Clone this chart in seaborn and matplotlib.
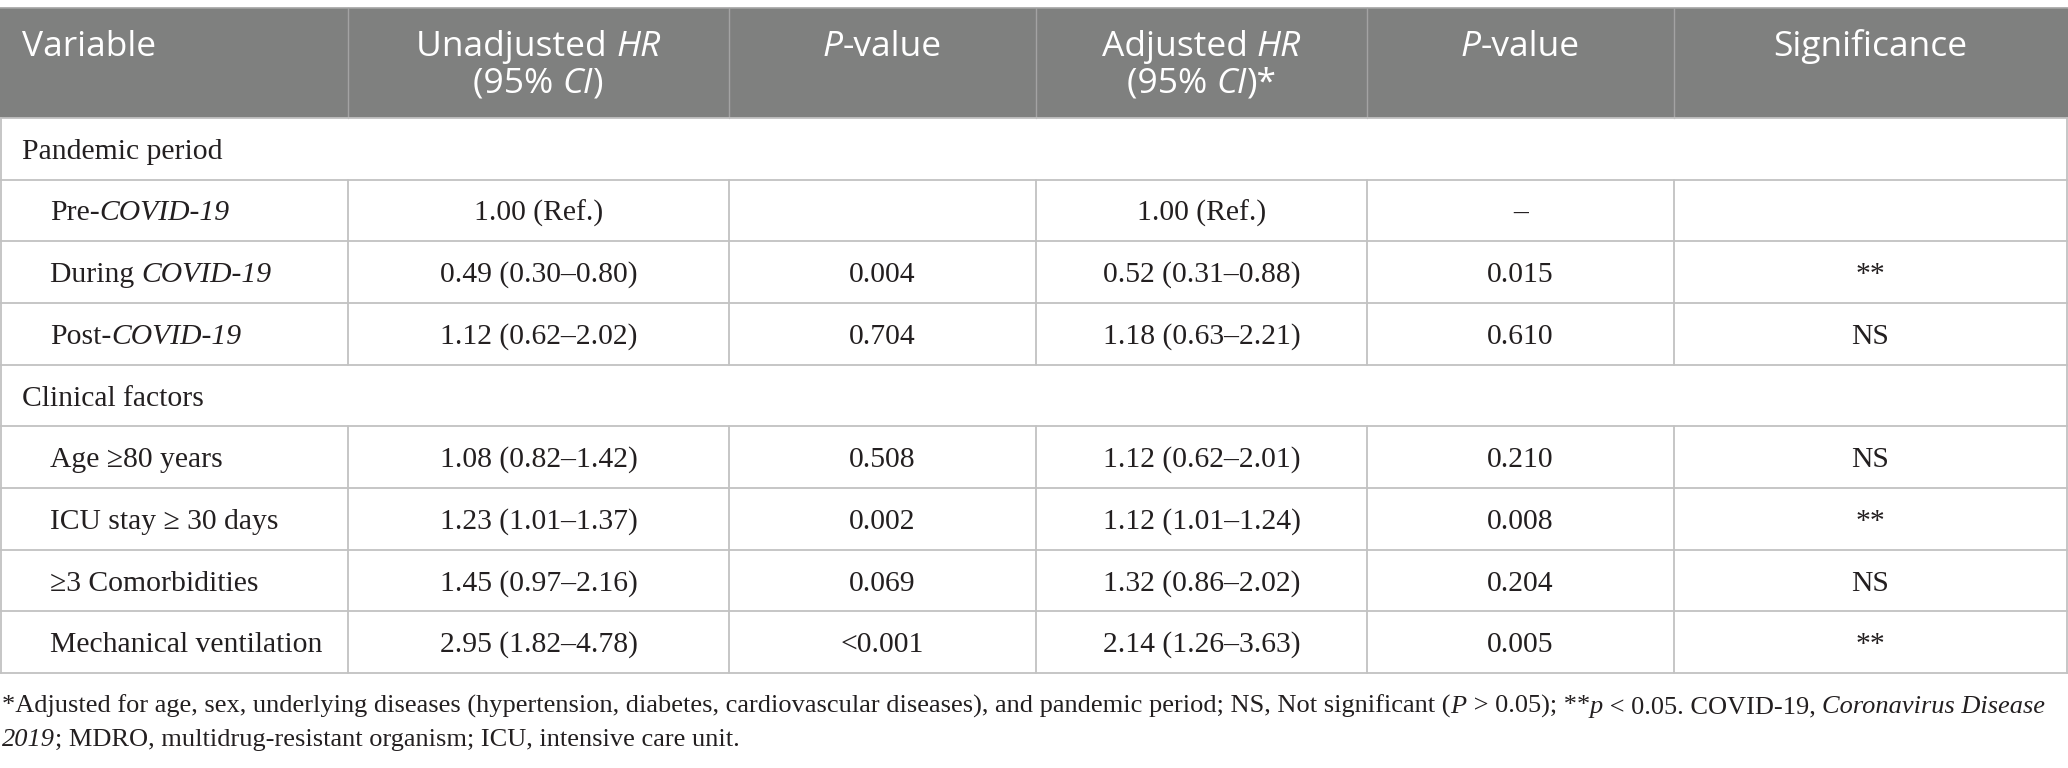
import numpy as np
import pandas as pd
import matplotlib
matplotlib.use("Agg")
import matplotlib.pyplot as plt
from matplotlib.font_manager import FontProperties
import seaborn as sns

# ----------------------------
# table content
# ----------------------------
group_names = ["Pandemic period", "Clinical factors"]
group_sizes = [3, 4]

# (prefix, italic part) for each variable label
var_plain = ["Pre-", "During ", "Post-", "Age ≥80 years", "ICU stay ≥ 30 days",
             "≥3 Comorbidities", "Mechanical ventilation"]
var_italic = ["COVID-19", "COVID-19", "COVID-19", "", "", "", ""]

unadj_hr = [1.00, 0.49, 1.12, 1.08, 1.23, 1.45, 2.95]
unadj_lo = [np.nan, 0.30, 0.62, 0.82, 1.01, 0.97, 1.82]
unadj_hi = [np.nan, 0.80, 2.02, 1.42, 1.37, 2.16, 4.78]
unadj_p = ["", "0.004", "0.704", "0.508", "0.002", "0.069", "<0.001"]

adj_hr = [1.00, 0.52, 1.18, 1.12, 1.12, 1.32, 2.14]
adj_lo = [np.nan, 0.31, 0.63, 0.62, 1.01, 0.86, 1.26]
adj_hi = [np.nan, 0.88, 2.21, 2.01, 1.24, 2.02, 3.63]
adj_p = ["–", "0.015", "0.610", "0.210", "0.008", "0.204", "0.005"]

significance = ["", "**", "NS", "NS", "**", "NS", "**"]

headers = [
    [[("Variable", False)]],
    [[("Unadjusted ", False), ("HR", True)], [("(95% ", False), ("CI", True), (")", False)]],
    [[("P", True), ("-value", False)]],
    [[("Adjusted ", False), ("HR", True)], [("(95% ", False), ("CI", True), (")*", False)]],
    [[("P", True), ("-value", False)]],
    [[("Significance", False)]],
]

footnote = [
    [("*Adjusted for age, sex, underlying diseases (hypertension, diabetes, cardiovascular diseases), "
      "and pandemic period; NS, Not significant (", False), ("P", True), (" > 0.05); **", False),
     ("p", True), (" < 0.05. COVID-19, ", False), ("Coronavirus Disease", True)],
    [("2019", True), ("; MDRO, multidrug-resistant organism; ICU, intensive care unit.", False)],
]


def fmt_hr(hr, lo, hi):
    if np.isnan(lo):
        return f"{hr:.2f} (Ref.)"
    return f"{hr:.2f} ({lo:.2f}–{hi:.2f})"


df = pd.DataFrame({
    "plain": var_plain,
    "italic": var_italic,
    "unadj": [fmt_hr(h, l, u) for h, l, u in zip(unadj_hr, unadj_lo, unadj_hi)],
    "unadj_p": unadj_p,
    "adj": [fmt_hr(h, l, u) for h, l, u in zip(adj_hr, adj_lo, adj_hi)],
    "adj_p": adj_p,
    "sig": significance,
})

# ----------------------------
# style
# ----------------------------
sns.set_theme(style="white")
plt.rcParams["font.family"] = ["Liberation Serif", "DejaVu Serif"]

HEAD_BG = "#7f807f"
HEAD_LINE = "#a3a3a3"
GRID = "#c2c2c2"
TXT = "#231f20"

W, H = 2068, 768
col_edges = [0, 348, 729, 1036, 1367, 1674, 2067]
head_top, head_bot = 8, 118
row_h = (673 - head_bot) / 9

fig = plt.figure(figsize=(W / 100, H / 100), dpi=100)
ax = fig.add_axes([0, 0, 1, 1])
ax.set_xlim(0, W)
ax.set_ylim(H, 0)
ax.axis("off")
renderer = fig.canvas.get_renderer()

head_fp = dict(family=["Open Sans", "DejaVu Sans"], size=25.5)
body_fp = dict(family=["Liberation Serif", "DejaVu Serif"], size=21.3)
foot_fp = dict(family=["Liberation Serif", "DejaVu Serif"], size=19)


def props(base, italic):
    return FontProperties(family=base["family"], size=base["size"],
                          style="italic" if italic else "normal")


def text_width(txt, fp):
    t1 = ax.text(0, 0, "|" + txt + "|", fontproperties=fp)
    t2 = ax.text(0, 0, "||", fontproperties=fp)
    w = t1.get_window_extent(renderer).width - t2.get_window_extent(renderer).width
    t1.remove()
    t2.remove()
    return w


def draw_segments(x, y, segs, base, ha="left", color=TXT):
    widths = [text_width(s, props(base, it)) for s, it in segs]
    start = x - sum(widths) / 2 if ha == "center" else x
    for (s, it), w in zip(segs, widths):
        ax.text(start, y, s, fontproperties=props(base, it), color=color,
                ha="left", va="baseline")
        start += w


# header
ax.add_patch(plt.Rectangle((0, head_top), W, head_bot - head_top,
                           facecolor=HEAD_BG, edgecolor="none"))
ax.plot([0, W], [head_top, head_top], color=HEAD_LINE, lw=1.2)
for xe in col_edges[1:-1]:
    ax.plot([xe, xe], [head_top, head_bot], color=HEAD_LINE, lw=1.0)
for ci, lines in enumerate(headers):
    for li, segs in enumerate(lines):
        yb = 56 + li * 37
        if ci == 0:
            draw_segments(22, yb, segs, head_fp, color="white")
        else:
            xc = (col_edges[ci] + col_edges[ci + 1]) / 2
            draw_segments(xc, yb, segs, head_fp, ha="center", color="white")

# body
y = head_bot
k = 0
for gname, gsize in zip(group_names, group_sizes):
    ax.plot([0, W], [y, y], color=GRID, lw=1.3)
    ax.plot([col_edges[0] + 0.5] * 2, [y, y + row_h], color=GRID, lw=1.3)
    ax.plot([col_edges[-1]] * 2, [y, y + row_h], color=GRID, lw=1.3)
    draw_segments(22, y + row_h / 2 + 10, [(gname, False)], body_fp)
    y += row_h
    for _ in range(gsize):
        row = df.iloc[k]
        ax.plot([0, W], [y, y], color=GRID, lw=1.3)
        for xe in col_edges:
            xe = max(xe, 0.5)
            ax.plot([xe, xe], [y, y + row_h], color=GRID, lw=1.3)
        yb = y + row_h / 2 + 10
        segs = [(row["plain"], False)]
        if row["italic"]:
            segs.append((row["italic"], True))
        draw_segments(50, yb, segs, body_fp)
        for ci, key in enumerate(["unadj", "unadj_p", "adj", "adj_p", "sig"], start=1):
            if row[key]:
                xc = (col_edges[ci] + col_edges[ci + 1]) / 2
                draw_segments(xc, yb, [(row[key], False)], body_fp, ha="center")
        y += row_h
        k += 1
ax.plot([0, W], [y, y], color=GRID, lw=1.3)

# footnote
for li, segs in enumerate(footnote):
    draw_segments(2, 713 + li * 33, segs, foot_fp)

sns.despine(fig=fig, left=True, bottom=True)
fig.savefig("out.png", dpi=100)
